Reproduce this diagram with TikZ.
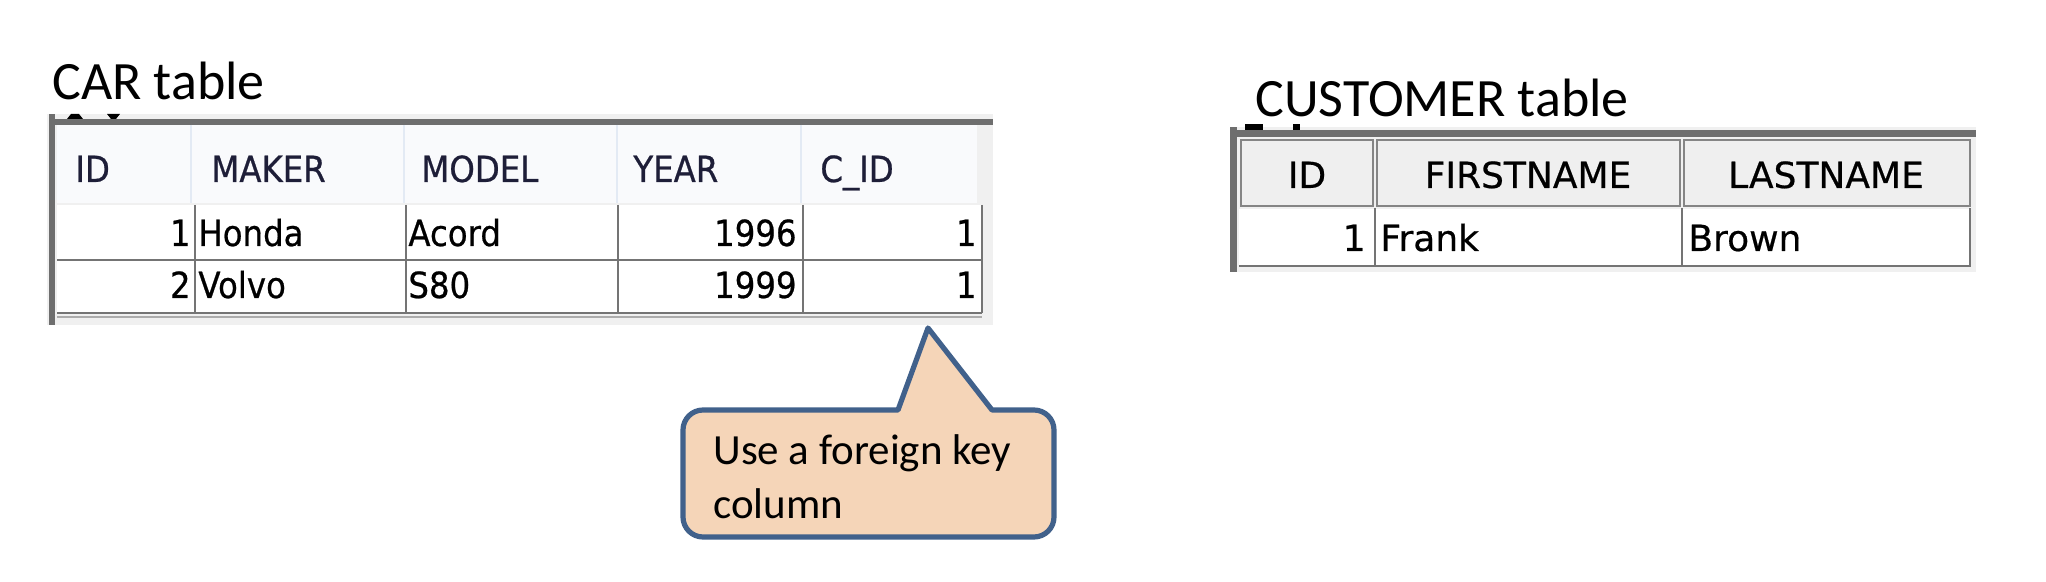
\documentclass[tikz,border=0pt]{standalone}
\usepackage{fontspec}
\setmainfont{Carlito}
\newfontfamily\cartabfont[FakeStretch=0.9,FakeBold=0.6]{DejaVu Sans}
\newfontfamily\custtabfont[FakeBold=0.5]{DejaVu Sans}
\definecolor{panelbg}{HTML}{F0F0F0}
\definecolor{darkline}{HTML}{6E6E6E}
\definecolor{gridc}{HTML}{747474}
\definecolor{hdrbg}{HTML}{F9FAFC}
\definecolor{hdrsep}{HTML}{E3EAF4}
\definecolor{btnbg}{HTML}{EFEFEF}
\definecolor{btnline}{HTML}{858585}
\definecolor{hdrtext}{HTML}{1E1E38}
\definecolor{callfill}{HTML}{F5D5B8}
\definecolor{calldraw}{HTML}{41618B}
\tikzset{
  title/.style={anchor=base west, inner sep=0pt, font=\fontsize{27}{32}\selectfont},
  cartxt/.style={inner sep=0pt, font=\cartabfont\fontsize{18}{22}\selectfont},
  carhdr/.style={cartxt, anchor=base west, text=hdrtext},
  carl/.style={cartxt, anchor=base west},
  carr/.style={cartxt, anchor=base east},
  custtxt/.style={inner sep=0pt, font=\custtabfont\fontsize{18}{22}\selectfont},
  custhdr/.style={custtxt, anchor=base},
  custl/.style={custtxt, anchor=base west},
  custr/.style={custtxt, anchor=base east},
  grid/.style={draw=gridc, line width=1.4pt},
  btn/.style={fill=btnbg, draw=btnline, line width=1.4pt},
  callout/.style={fill=callfill, draw=calldraw, line width=2.6pt, line join=round}
}
\begin{document}
\begin{tikzpicture}[x=0.5pt,y=-0.5pt]
\useasboundingbox (0,0) rectangle (2046,582);

% ---------- CAR table ----------
\node[title] (cartitle) at (52,100) {CAR table};
\fill[panelbg] (47,114) rectangle (993,325);
\fill[black] (67,119) -- (83,119) -- (79,114) -- (71,114) -- cycle;
\fill[black] (107,114) -- (120,114) -- (116,119) -- (111,119) -- cycle;
\fill[darkline] (49,119) rectangle (993,125);
\fill[darkline] (49,114) rectangle (55,325);
\fill[hdrbg] (57,125) rectangle (977,203);
\foreach \x in {191,404,617,801} \draw[hdrsep, line width=1pt] (\x,125) -- (\x,203);
\fill[white] (57,205) rectangle (982,313);
\draw[grid] (57,260) -- (982,260);
\draw[grid] (57,313) -- (982,313);
\draw[grid, draw=gridc!60] (57,317) -- (982,317);
\foreach \x in {195,406,618,803,982} \draw[grid] (\x,205) -- (\x,313);

\node[carhdr] (hid) at (75,182) {ID};
\node[carhdr] (hmaker) at (211,182) {MAKER};
\node[carhdr] (hmodel) at (421,182) {MODEL};
\node[carhdr] (hyear) at (633,182) {YEAR};
\node[carhdr] (hcid) at (820,182) {C\_ID};

\node[carr] (r1id) at (191,246) {1};
\node[carl] (r1maker) at (198,246) {Honda};
\node[carl] (r1model) at (408,246) {Acord};
\node[carr] (r1year) at (797,246) {1996};
\node[carr] (r1cid) at (977,246) {1};

\node[carr] (r2id) at (191,298) {2};
\node[carl] (r2maker) at (198,298) {Volvo};
\node[carl] (r2model) at (408,298) {S80};
\node[carr] (r2year) at (797,298) {1999};
\node[carr] (r2cid) at (977,298) {1};

% ---------- CUSTOMER table ----------
\node[title] (custtitle) at (1255,117) {CUSTOMER table};
\fill[panelbg] (1230,127) rectangle (1976,272);
\fill[black] (1245,124) rectangle (1263,130);
\fill[black] (1293,124) rectangle (1300,130);
\fill[darkline] (1230,130) rectangle (1976,137);
\fill[darkline] (1230,127) rectangle (1237,272);
\draw[btn] (1241,140) rectangle (1373,206);
\draw[btn] (1377,140) rectangle (1680,206);
\draw[btn] (1684,140) rectangle (1970,206);
\fill[white] (1239,209) rectangle (1970,266);
\draw[grid] (1239,266) -- (1971,266);
\foreach \x in {1375,1682,1970} \draw[grid] (\x,208) -- (\x,266);

\node[custhdr] (cid) at (1307,188) {ID};
\node[custhdr] (cfirst) at (1528,188) {FIRSTNAME};
\node[custhdr] (clast) at (1826,188) {LASTNAME};
\node[custr] (c1id) at (1366,251) {1};
\node[custl] (c1first) at (1380,251) {Frank};
\node[custl] (c1last) at (1688,251) {Brown};

% ---------- callout ----------
\coordinate (tip) at (928,328);
\draw[callout] (870,537) [rounded corners=10pt] -- (683,537) -- (683,410) [sharp corners] -- (898,410) -- (tip) -- (992,410) [rounded corners=10pt] -- (1054,410) -- (1054,537) -- cycle;
\node[anchor=base west, inner sep=0pt] (calltext) at (713,465)
  {\fontsize{21.5}{27}\selectfont\parbox[t]{300pt}{\raggedright Use a foreign key\\column}};
\end{tikzpicture}
\end{document}
